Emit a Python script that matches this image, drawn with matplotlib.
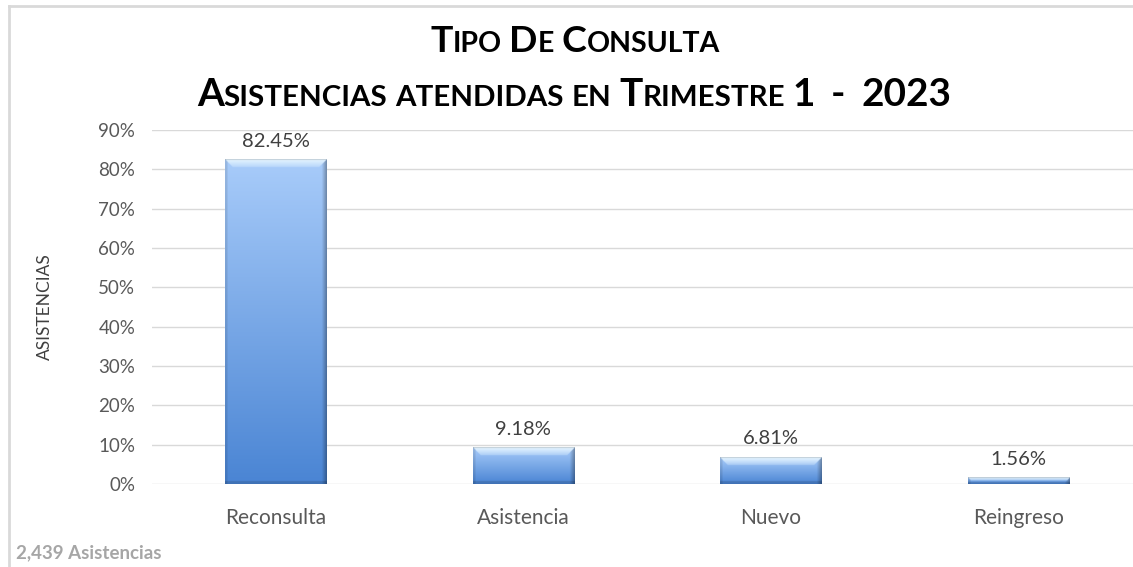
import numpy as np
import matplotlib
matplotlib.use("Agg")
import matplotlib.pyplot as plt
from matplotlib.transforms import IdentityTransform

plt.rcParams['font.family'] = ['Lato', 'DejaVu Sans']

# data
categories = ["Reconsulta", "Asistencia", "Nuevo", "Reingreso"]
shares = [0.8245, 0.0918, 0.0681, 0.0156]
yticks = [0, 0.1, 0.2, 0.3, 0.4, 0.5, 0.6, 0.7, 0.8, 0.9]
title_1 = "Tipo De Consulta"
title_2 = "Asistencias atendidas en Trimestre 1  -  2023"
footer = "2,439 Asistencias"
y_title = "ASISTENCIAS"

W, H = 1133, 567
fig = plt.figure(figsize=(W / 100, H / 100), dpi=100)
renderer = fig.canvas.get_renderer()

# plot area in pixels: left 152, bottom (0%) at 484, top (90%) at 130
ax = fig.add_axes([152 / W, (H - 484) / H, 990 / W, 354 / H])
ax.set_xlim(-0.5, 3.5)
ax.set_ylim(0, 0.9)
ax.set_yticks(yticks)
ax.set_yticklabels([f"{int(round(t * 100))}%" for t in yticks])
ax.set_xticks(range(len(categories)))
ax.set_xticklabels(categories)
ax.tick_params(axis='y', length=0, pad=12, labelsize=13.5, labelcolor='#595959')
ax.tick_params(axis='x', length=0, pad=17, labelsize=15, labelcolor='#595959')
ax.grid(axis='y', color='#d9d9d9', linewidth=1)
ax.set_axisbelow(True)
for s in ax.spines.values():
    s.set_visible(False)

# bars, drawn transparent then filled with a bevelled gradient image
bar_w = 0.41
bars = ax.bar(range(len(categories)), shares, width=bar_w, color='none', zorder=2)

px_per_x = 990 / 4
px_per_y = 354 / 0.9


def bevel_image(wpx, hpx):
    rows = max(int(round(hpx)) * 2, 4)
    cols = int(round(wpx)) * 2
    t = np.linspace(0, 1, rows)[:, None, None]
    top = np.array([0.66, 0.80, 0.98])
    bot = np.array([0.29, 0.52, 0.83])
    img = (top * (1 - t) + bot * t) * np.ones((rows, cols, 3))
    yy, xx = np.mgrid[0:rows, 0:cols]
    b = min(16, rows // 2)
    # top bevel highlight (trapezoid), fading downwards
    topzone = (yy < b) & (xx >= yy) & (xx < cols - yy)
    a = (0.75 * (1 - yy / b) + 0.25)[..., None]
    hl = img * (1 - a) + np.array([0.90, 0.96, 1.0]) * a
    img = np.where(topzone[..., None], hl, img)
    img[:2] = img[:2] * 0.85
    # right side shade, darker at the very edge
    d = (cols - 1 - xx)
    right = (d < 10) & (yy >= d) & ~topzone
    f = (0.68 + 0.032 * d)[..., None]
    img = np.where(right[..., None], img * f, img)
    # left side
    left = (xx < 5) & (yy >= xx)
    img[left] = img[left] * 0.9
    # bottom edge
    bz = min(6, rows // 3)
    bottom = yy >= rows - bz
    img[bottom] = img[bottom] * 0.86
    return np.clip(img, 0, 1)


for bar in bars:
    x0 = bar.get_x()
    h = bar.get_height()
    img = bevel_image(bar_w * px_per_x, h * px_per_y)
    ax.imshow(img, extent=(x0, x0 + bar_w, 0, h), aspect='auto',
              interpolation='bilinear', zorder=3)
    ax.annotate(f"{h * 100:.2f}%", (x0 + bar_w / 2, h), xytext=(0, 7),
                textcoords='offset points', ha='center', va='bottom',
                fontsize=14.5, color='#404040')

ax.set_xlim(-0.5, 3.5)
ax.set_ylim(0, 0.9)


def small_caps(s, cx, base, big, ratio, target_w=None, **kw):
    # Excel-style small caps: lowercase letters become smaller capitals
    def build(big_size):
        small_size = big_size * ratio
        runs = []
        words = s.split(' ')
        for wi, word in enumerate(words):
            cur, cur_small = '', None
            for ch in word:
                is_small = ch.islower()
                if cur and is_small != cur_small:
                    runs.append((cur, cur_small))
                    cur = ''
                cur += ch.upper()
                cur_small = is_small
            if cur:
                runs.append((cur, cur_small))
            if wi < len(words) - 1:
                runs.append((' ', None))
        texts, x = [], 0
        for txt, sm in runs:
            if txt == ' ':
                x += big_size * 0.28
                continue
            t = fig.text(x, base, txt, transform=IdentityTransform(),
                         fontsize=small_size if sm else big_size,
                         ha='left', va='baseline', **kw)
            w = t.get_window_extent(renderer).width
            texts.append((t, x))
            x += w
        return texts, x

    texts, total = build(big)
    if target_w:
        for t, _ in texts:
            t.remove()
        texts, total = build(big * target_w / total)
    start = cx - total / 2
    for t, x in texts:
        t.set_x(start + x)


small_caps(title_1, 575, H - 52, 24, 0.76, target_w=290, weight='bold', color='black')
small_caps(title_2, 574, H - 106, 24, 0.76, target_w=752, weight='bold', color='black')

fig.text(45, H - 307, y_title, transform=IdentityTransform(), rotation=90,
         ha='center', va='center', fontsize=12.5, color='#404040')
fig.text(16, H - 553, footer, transform=IdentityTransform(), ha='left',
         va='center', fontsize=13.5, weight='bold', color='#a6a6a6')

# chart frame (top and left edges visible)
fig.add_artist(plt.Line2D([8.5, W], [H - 5.5, H - 5.5], transform=IdentityTransform(),
                          color='#d9d9d9', linewidth=2))
fig.add_artist(plt.Line2D([8.5, 8.5], [0, H - 5.5], transform=IdentityTransform(),
                          color='#d9d9d9', linewidth=2))

fig.savefig("out.png", dpi=100)
